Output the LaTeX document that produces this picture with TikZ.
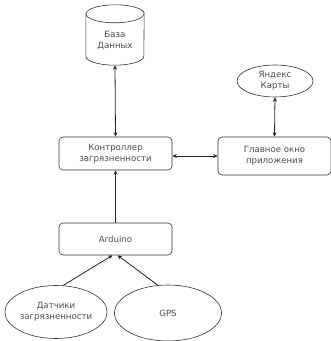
\documentclass[tikz,border=0pt]{standalone}
\usepackage{fontspec}
\setmainfont{DejaVu Sans}
\usetikzlibrary{shapes.geometric,arrows.meta,calc}
\begin{document}
\begin{tikzpicture}[x=1pt,y=1pt,
  every node/.style={font=\fontsize{8.6}{11}\selectfont, text=black!70, align=center},
  box/.style={draw=black!80, rounded corners=4pt, line width=0.6pt, fill=white},
  oval/.style={draw=black!80, ellipse, line width=0.6pt, fill=white, inner sep=0pt},
  con/.style={draw=black!85, line width=0.8pt},
  tip/.style={-{Stealth[length=4.5pt,width=4pt]}},
  dtip/.style={{Stealth[length=4.5pt,width=4pt]}-{Stealth[length=4.5pt,width=4pt]}}]
\useasboundingbox (0,0) rectangle (331,341);
% database cylinder
\node[minimum width=58pt, minimum height=60pt, inner sep=0pt] (db) at (115,306) {};
\draw[draw=black!80, line width=0.6pt, fill=white]
  (db.north west) ++(0,-9) -- ($(db.south west)+(0,9)$)
  arc[start angle=180, end angle=360, x radius=29pt, y radius=9pt]
  -- ($(db.north east)+(0,-9)$)
  arc[start angle=0, end angle=180, x radius=29pt, y radius=9pt];
\draw[draw=black!80, line width=0.6pt] ($(db.north west)+(0,-9)$)
  arc[start angle=180, end angle=360, x radius=29pt, y radius=9pt];
\node (dbt) at (115,300) {База\\Данных};
\node[box, minimum width=113pt, minimum height=33pt] (ctl) at (115.5,187.5) {Контроллер\\загрязненности};
\node[box, minimum width=113pt, minimum height=38pt] (win) at (274.5,185) {Главное окно\\приложения};
\node[oval, minimum width=76pt, minimum height=32pt] (ya) at (275,260) {Яндекс\\Карты};
\node[box, minimum width=113pt, minimum height=32pt] (ard) at (115.5,102) {Arduino};
\node[oval, minimum width=95pt, minimum height=53pt] (sen) at (56,29) {Датчики\\загрязненности};
\node[oval, minimum width=107pt, minimum height=56pt] (gps) at (168,28) {GPS};
\draw[con,dtip] (db.south) -- (ctl.north);
\draw[con,dtip] (ya.south) -- (win.north);
\draw[con,dtip] (ctl.east |- 0,185) -- (win.west |- 0,185);
\draw[con,tip] (ard.north) -- (ctl.south);
\draw[con,tip] (sen.75) -- ($(ard.south)+(-3,0)$);
\draw[con,tip] (gps.110) -- ($(ard.south)+(2,0)$);
\end{tikzpicture}
\end{document}
